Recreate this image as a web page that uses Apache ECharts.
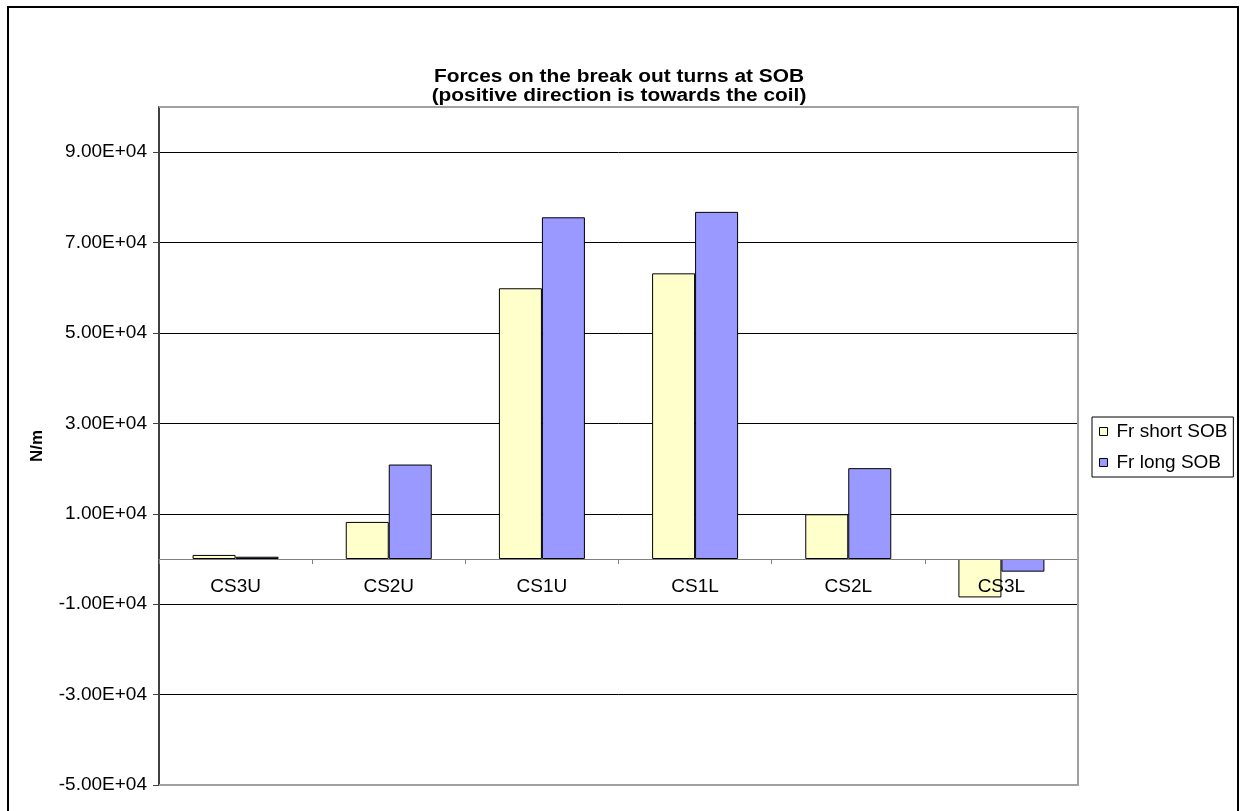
<!DOCTYPE html>
<html>
<head>
<meta charset="utf-8">
<script src="https://cdn.jsdelivr.net/npm/echarts@6/dist/echarts.min.js"></script>
<style>
  html, body { margin: 0; padding: 0; background: #fff; }
  #chart { width: 1245px; height: 811px; }
</style>
</head>
<body>
<div id="chart"></div>
<script>
// Coil sections along the category axis
const categories = ['CS3U', 'CS2U', 'CS1U', 'CS1L', 'CS2L', 'CS3L'];
// Radial force per unit length, N/m
const frShort = [900, 8200, 59900, 63200, 9900, -8500];
const frLong = [500, 20900, 75600, 76800, 20100, -2800];
// Labelled values on the force axis
const yTickValues = [-50000, -30000, -10000, 10000, 30000, 50000, 70000, 90000];
const yMin = -50000;
const yMax = 100000;
const titleLines = ['Forces on the break out turns at SOB', '(positive direction is towards the coil)'];

function sci(v) {
  if (v === 0) return '0.00E+00';
  const e = Math.floor(Math.log10(Math.abs(v)) + 1e-9);
  const m = v / Math.pow(10, e);
  return m.toFixed(2) + 'E' + (e < 0 ? '-' : '+') + String(Math.abs(e)).padStart(2, '0');
}

const FONT = 'Liberation Sans, Arial, sans-serif';
const G = { left: 159, top: 107, right: 1078, bottom: 785 };
// lift the category axis up to the zero line, labels included
const zeroOffset = -(G.bottom - G.top) * (0 - yMin) / (yMax - yMin);

function titleText(str, y) {
  return {
    type: 'text',
    x: 619,
    y: y,
    scaleX: 1.16,
    z: 10,
    style: {
      text: str,
      font: 'bold 18px ' + FONT,
      fill: '#000',
      align: 'center',
      verticalAlign: 'middle'
    }
  };
}

const chart = echarts.init(document.getElementById('chart'), null, { renderer: 'canvas' });
chart.setOption({
  backgroundColor: '#fff',
  animation: false,
  legend: {
    orient: 'vertical',
    left: 1092,
    top: 417,
    padding: [5, 6, 5, 7],
    itemGap: 12,
    itemWidth: 8,
    itemHeight: 8,
    icon: 'rect',
    backgroundColor: '#fff',
    borderColor: '#000',
    borderWidth: 1,
    itemStyle: { borderColor: '#000', borderWidth: 1 },
    textStyle: { fontFamily: FONT, fontSize: 19, color: '#000', padding: [0, 0, 0, 4] },
    data: ['Fr short SOB', 'Fr long SOB']
  },
  grid: {
    left: G.left,
    top: G.top,
    right: 1245 - G.right,
    bottom: 811 - G.bottom,
    containLabel: false
  },
  xAxis: {
    type: 'category',
    data: categories,
    offset: zeroOffset,
    z: 5,
    axisLine: { onZero: false, lineStyle: { color: '#808080', width: 1 } },
    axisTick: { show: true, length: 5, lineStyle: { color: '#808080' } },
    axisLabel: { fontFamily: FONT, fontSize: 19, color: '#000', margin: 18 },
    splitLine: { show: false }
  },
  yAxis: {
    type: 'value',
    min: yMin,
    max: yMax,
    interval: 20000,
    name: 'N/m',
    nameLocation: 'middle',
    nameGap: 113,
    nameRotate: 90,
    nameTextStyle: { fontFamily: FONT, fontSize: 17, fontWeight: 'bold', color: '#000' },
    axisLine: { show: true, lineStyle: { color: '#404040', width: 2 } },
    axisTick: { show: true, length: 6, customValues: yTickValues, lineStyle: { color: '#404040' } },
    axisLabel: {
      fontFamily: FONT, fontSize: 19, color: '#000', margin: 12,
      customValues: yTickValues,
      formatter: v => (v > 95000 ? '' : sci(v))
    },
    splitLine: { show: true, lineStyle: { color: '#000', width: 1 } }
  },
  graphic: [
    titleText(titleLines[0], 77),
    titleText(titleLines[1], 96),
    {
      type: 'polyline',
      z: 10,
      shape: { points: [[G.left, G.top], [G.right, G.top], [G.right, G.bottom], [G.left, G.bottom]] },
      style: { stroke: '#a0a0a0', lineWidth: 2, fill: null }
    },
    {
      type: 'rect',
      z: 10,
      shape: { x: 8, y: 7, width: 1230, height: 830 },
      style: { stroke: '#000', lineWidth: 2, fill: null }
    }
  ],
  series: [
    {
      name: 'Fr short SOB',
      type: 'bar',
      data: frShort,
      barWidth: 43,
      barGap: '0%',
      itemStyle: { color: '#FFFFCC', borderColor: '#000', borderWidth: 1 }
    },
    {
      name: 'Fr long SOB',
      type: 'bar',
      data: frLong,
      barWidth: 43,
      barGap: '0%',
      itemStyle: { color: '#9999FF', borderColor: '#000', borderWidth: 1 }
    }
  ]
});
</script>
</body>
</html>
